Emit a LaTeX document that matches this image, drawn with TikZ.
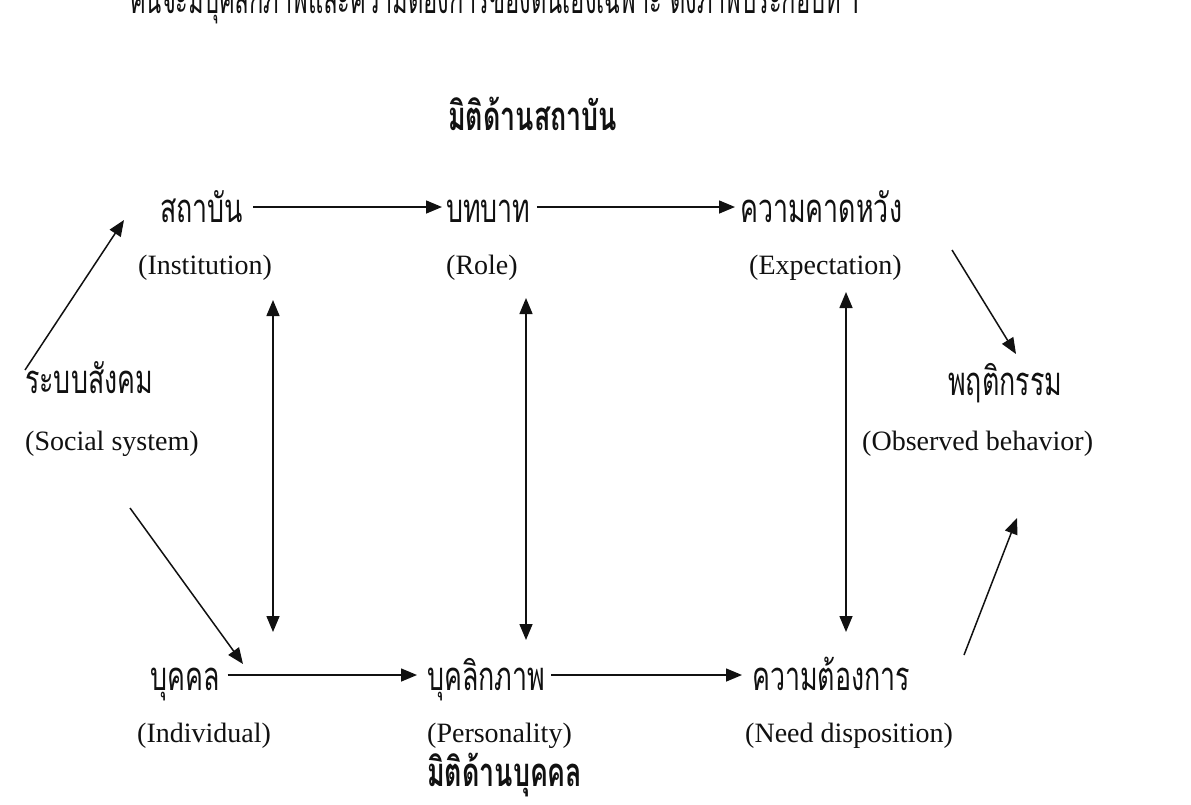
\documentclass[tikz,border=0pt]{standalone}
\usepackage{fontspec}
\usepackage{xcolor}
\usetikzlibrary{arrows.meta}
\setmainfont{Liberation Serif}
\newfontfamily\thaifont[Script=Thai,FakeStretch=0.67]{Loma}
\newfontfamily\leadfont[Script=Thai,FakeStretch=0.59]{Loma}
\definecolor{ink}{HTML}{111111}
\tikzset{
  thai/.style={font=\thaifont\fontsize{40}{44}\selectfont, anchor=base west,
    inner sep=0pt, text height=30pt, text depth=0pt, color=ink},
  title/.style={thai, font=\thaifont\bfseries\fontsize{40}{44}\selectfont},
  eng/.style={font=\fontsize{28}{32}\selectfont, anchor=base west, inner sep=0pt, color=ink},
  link/.style={-{Triangle[length=16pt,width=13pt]}, line width=1.5pt, color=ink},
  both/.style={{Triangle[length=16pt,width=13pt]}-{Triangle[length=16pt,width=13pt]},
    line width=1.5pt, color=ink},
}
\begin{document}
\begin{tikzpicture}[x=1pt,y=-1pt]
  \useasboundingbox (0,0) rectangle (1191,804);
  \fill[white] (0,0) rectangle (1191,804);
  % text line above the figure
  \node[thai, font=\leadfont\fontsize{40}{44}\selectfont] (lead) at (130,13)
    {คนจะมีบุคลิกภาพและความต้องการของตนเองเฉพาะ ดังภาพประกอบที่ 1};
  % institutional dimension
  \node[title] (dimInst) at (448,130) {มิติด้านสถาบัน};
  \node[thai] (inst) at (160,222) {สถาบัน};
  \node[thai] (role) at (446,222) {บทบาท};
  \node[thai] (expt) at (740,222) {ความคาดหวัง};
  \node[eng] (instE) at (138,274) {(Institution)};
  \node[eng] (roleE) at (446,274) {(Role)};
  \node[eng] (exptE) at (749,274) {(Expectation)};
  % social system and behaviour
  \node[thai] (soc) at (25,393) {ระบบสังคม};
  \node[eng] (socE) at (25,450) {(Social system)};
  \node[thai] (behv) at (948,395) {พฤติกรรม};
  \node[eng] (behvE) at (862,450) {(Observed behavior)};
  % personal dimension
  \node[thai] (indv) at (150,690) {บุคคล};
  \node[thai] (pers) at (427,690) {บุคลิกภาพ};
  \node[thai] (need) at (752,690) {ความต้องการ};
  \node[eng] (indvE) at (137,742) {(Individual)};
  \node[eng] (persE) at (427,742) {(Personality)};
  \node[eng] (needE) at (745,742) {(Need disposition)};
  \node[title] (dimPers) at (427,786) {มิติด้านบุคคล};
  % horizontal flows
  \draw[link] ([xshift=10pt]inst.east) -- ([xshift=-4pt]role.west);
  \draw[link] ([xshift=6pt]role.east) -- ([xshift=-5pt]expt.west);
  \draw[link] ([xshift=8pt]indv.east) -- ([xshift=-10pt]pers.west);
  \draw[link] ([xshift=6pt]pers.east) -- ([xshift=-10pt]need.west);
  % diagonal flows
  \coordinate (socTop) at (25,370);
  \coordinate (instIn) at (124,220);
  \coordinate (socBot) at (130,508);
  \coordinate (indvIn) at (243,664);
  \coordinate (exptOut) at (952,250);
  \coordinate (behvIn) at (1016,354);
  \coordinate (needOut) at (964,655);
  \coordinate (behvUp) at (1017,518);
  \draw[link] (socTop) -- (instIn);
  \draw[link] (socBot) -- (indvIn);
  \draw[link] (exptOut) -- (behvIn);
  \draw[link] (needOut) -- (behvUp);
  % two-way links between the dimensions
  \foreach \nm/\xx/\ya/\yb in {instV/273/300/632, roleV/526/298/640, exptV/846/292/632}{
    \coordinate (\nm a) at (\xx,\ya);
    \coordinate (\nm b) at (\xx,\yb);
    \draw[both] (\nm a) -- (\nm b);
  }
\end{tikzpicture}
\end{document}
